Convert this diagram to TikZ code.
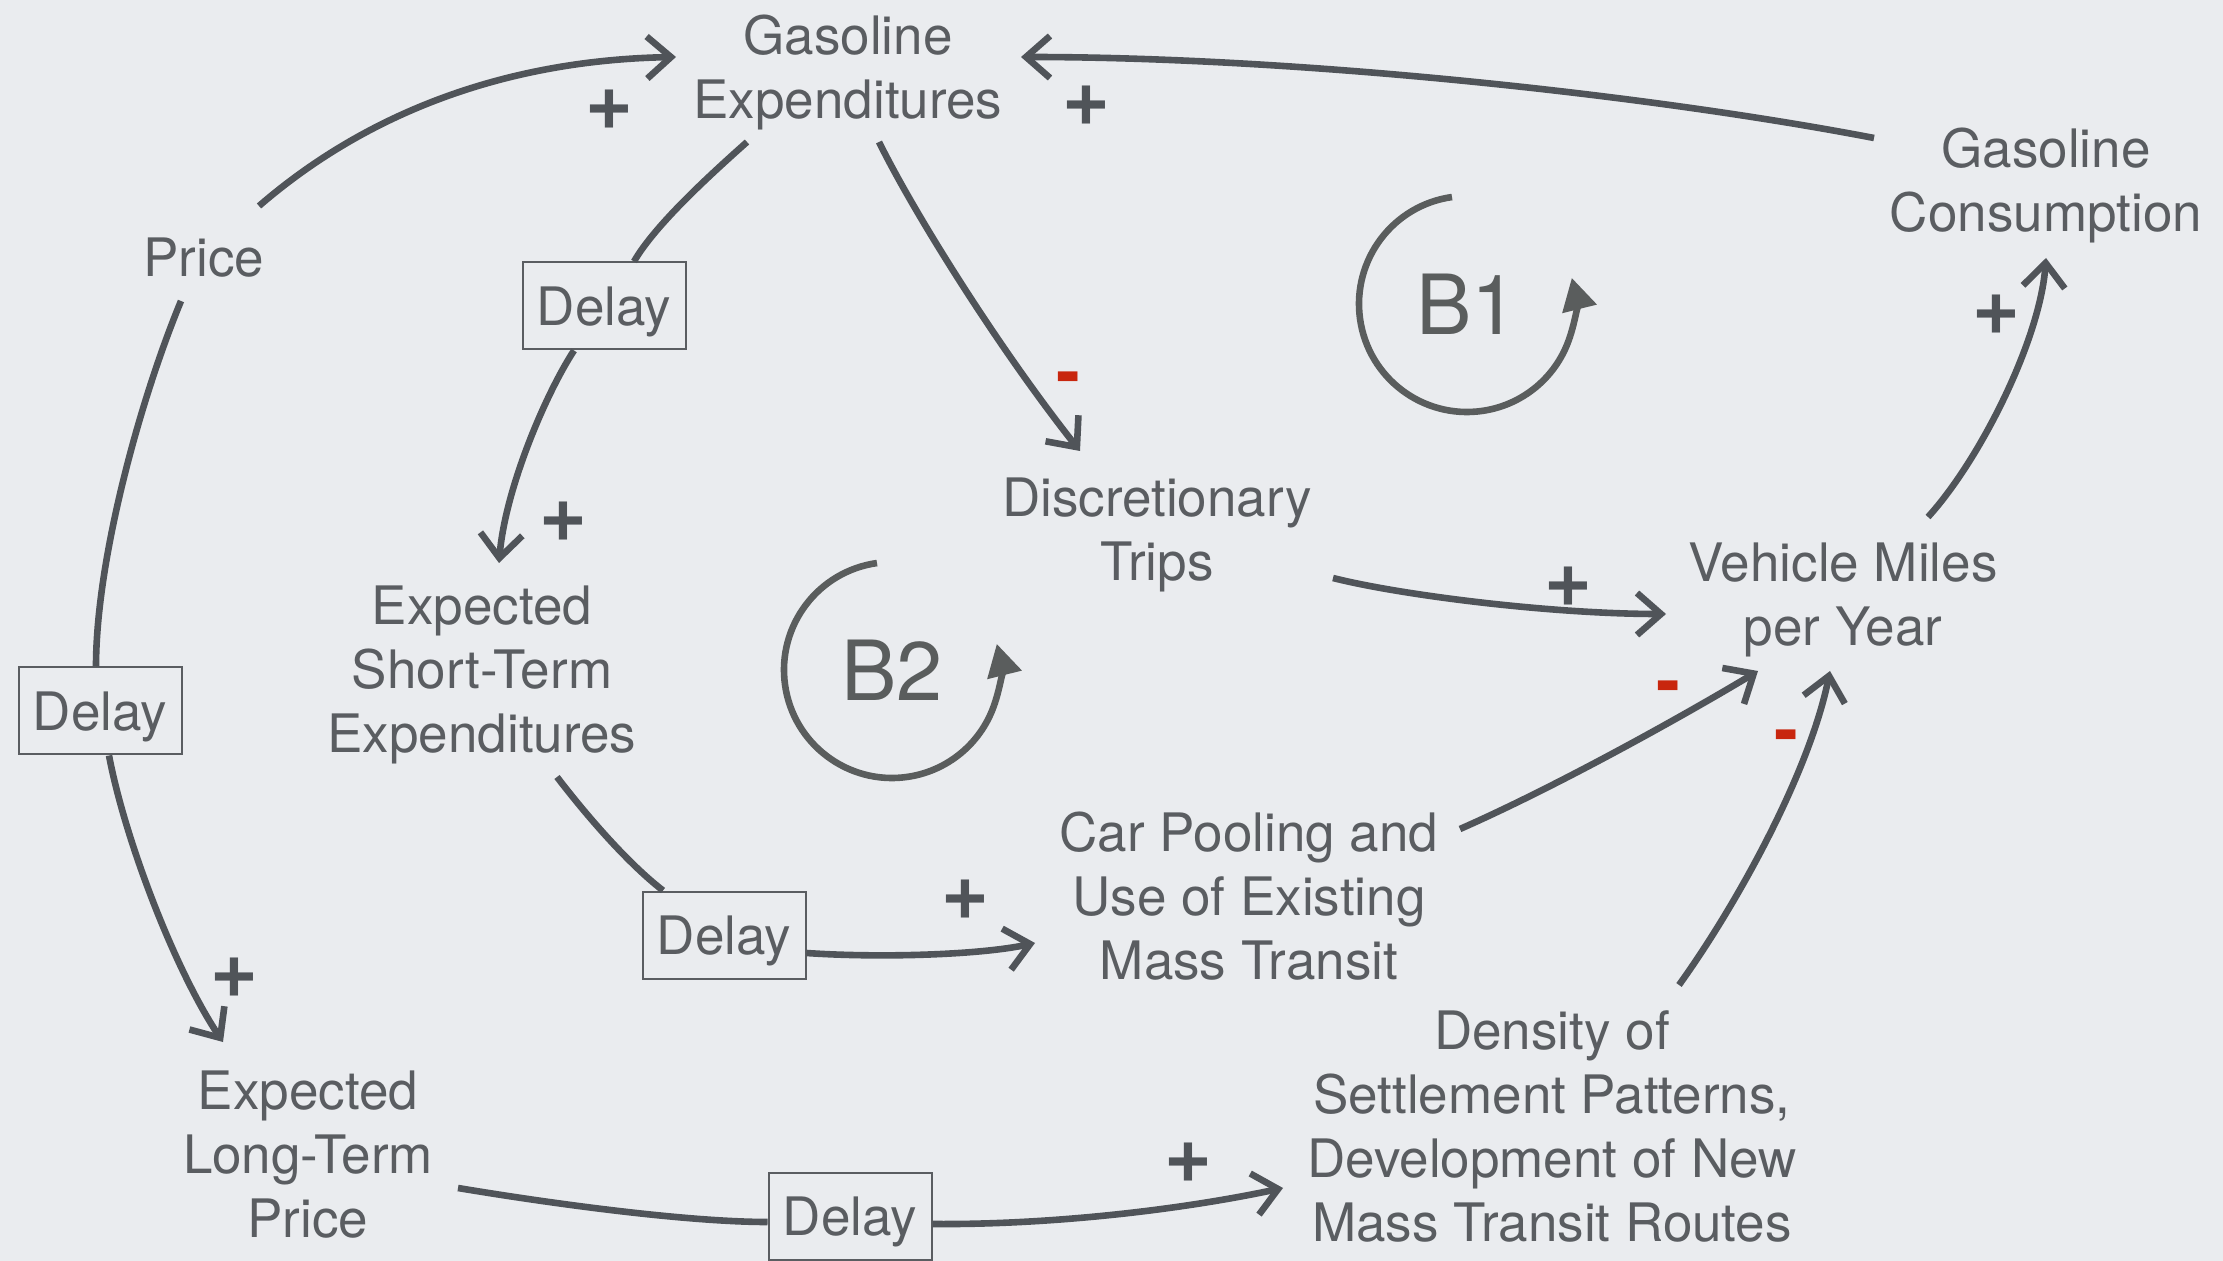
\documentclass[tikz,border=0pt]{standalone}
\usepackage{fontspec}
\setmainfont{TeX Gyre Heros}
\usetikzlibrary{arrows.meta,calc}
\definecolor{bg}{HTML}{EAECEF}
\definecolor{ink}{HTML}{5A5D61}
\definecolor{wire}{HTML}{505459}
\definecolor{loopc}{HTML}{5A5D5D}
\definecolor{minusc}{HTML}{C8260E}
\begin{document}
\begin{tikzpicture}[x=0.5pt,y=-0.5pt,
  lbl/.style={text=ink,font=\fontsize{26.5}{32}\selectfont,align=center,inner sep=0pt},
  delaybox/.style={draw=ink,line width=1pt,minimum width=81.5pt,minimum height=43.5pt,inner sep=0pt,text depth=0pt,text=ink,font=\fontsize{26.5}{32}\selectfont},
  conn/.style={draw=wire,line width=3.3pt,-{Straight Barb[length=12pt,width=21pt]}},
  seg/.style={draw=wire,line width=3.3pt},
  plussign/.style={text=wire,font=\bfseries\fontsize{41}{41}\selectfont,inner sep=0pt},
  minussign/.style={text=minusc,font=\bfseries\fontsize{36}{36}\selectfont,inner sep=0pt},
  loopname/.style={text=loopc,font=\fontsize{41.5}{41.5}\selectfont,inner sep=0pt},
  loopline/.style={draw=loopc,line width=3.3pt,-{Triangle[length=16pt,width=17pt]}}]
\fill[bg] (0,0) rectangle (2223,1261);
\useasboundingbox (0,0) rectangle (2223,1261);

% nodes
\node[lbl] (gexp) at (848,72) {Gasoline\\Expenditures};
\node[lbl] (gcons) at (2046,185) {Gasoline\\Consumption};
\node[lbl] (price) at (204,258) {Price};
\node[delaybox] (d1) at (604,306) {Delay};
\node[lbl] (disc) at (1157,535) {Discretionary\\Trips};
\node[lbl] (est) at (482,675) {Expected\\Short-Term\\Expenditures};
\node[delaybox] (dleft) at (100,711) {Delay};
\node[delaybox] (dmid) at (724,935) {Delay};
\node[lbl] (car) at (1249,896) {Car Pooling and\\Use of Existing\\Mass Transit};
\node[lbl] (vmt) at (1843,600) {Vehicle Miles\\per Year};
\node[lbl] (elt) at (308,1155) {Expected\\Long-Term\\Price};
\node[delaybox] (dbot) at (850,1216) {Delay};
\node[lbl] (dens) at (1552,1126) {Density of\\Settlement Patterns,\\Development of New\\Mass Transit Routes};

% loops
\node[loopname] (b1) at (1467,304) {B1};
\node[loopname] (b2) at (892,670) {B2};
\draw[loopline] ([shift={(-98:108)}]b1.center) arc[start angle=-98,end angle=-374,radius=108];
\draw[loopline] ([shift={(-98:108)}]b2.center) arc[start angle=-98,end angle=-374,radius=108];

% connectors
\draw[conn] ([shift={(55,-52)}]price.center) .. controls (370,110) and (510,60) .. ([shift={(-172,-15)}]gexp.center);
\draw[conn] ([shift={(-172,-47)}]gcons.center) .. controls (1650,95) and (1300,57) .. ([shift={(173,-15)}]gexp.center);
\draw[seg] ([shift={(-101,70)}]gexp.center) .. controls (710,175) and (655,225) .. ([shift={(30,0)}]d1.north);
\draw[conn] ([shift={(-30,0)}]d1.south) .. controls (545,395) and (505,490) .. ([shift={(17,-112)}]est.center);
\draw[conn] ([shift={(31,70)}]gexp.center) .. controls (915,215) and (1000,350) .. ([shift={(-77,-84)}]disc.center);
\draw[conn] ([shift={(176,43)}]disc.center) .. controls (1400,595) and (1550,614) .. ([shift={(-177,14)}]vmt.center);
\draw[conn] ([shift={(85,-83)}]vmt.center) .. controls (1980,460) and (2040,340) .. ([shift={(0,73)}]gcons.center);
\draw[conn] ([shift={(211,-67)}]car.center) .. controls (1560,785) and (1690,712) .. ([shift={(-85,71)}]vmt.center);
\draw[conn] ([shift={(127,-141)}]dens.center) .. controls (1740,900) and (1810,770) .. ([shift={(-13,71)}]vmt.center);
\draw[seg] ([shift={(75,102)}]est.center) .. controls (590,820) and (630,865) .. ([shift={(-61,0)}]dmid.north);
\draw[conn] ([shift={(0,18)}]dmid.east) .. controls (880,958) and (980,955) .. ([shift={(-214,47)}]car.center);
\draw[seg] ([shift={(-23,43)}]price.center) .. controls (140,400) and (96,560) .. ([shift={(-4,0)}]dleft.north);
\draw[conn] ([shift={(9,0)}]dleft.south) .. controls (125,840) and (175,970) .. ([shift={(-85,-113)}]elt.center);
\draw[seg] ([shift={(150,33)}]elt.center) .. controls (560,1205) and (690,1222) .. ([shift={(0,6)}]dbot.west);
\draw[conn] ([shift={(0,8)}]dbot.east) .. controls (1050,1225) and (1180,1210) .. ([shift={(-269,62)}]dens.center);

% polarity labels
\node[plussign] (p1) at (609,110) {+};
\node[plussign] (p2) at (1086,106) {+};
\node[plussign] (p3) at (563,522) {+};
\node[minussign] (m1) at (1068,384) {-};
\node[plussign] (p4) at (1568,587) {+};
\node[plussign] (p5) at (1996,315) {+};
\node[minussign] (m2) at (1668,693) {-};
\node[minussign] (m3) at (1786,742) {-};
\node[plussign] (p6) at (965,900) {+};
\node[plussign] (p7) at (234,978) {+};
\node[plussign] (p8) at (1188,1163) {+};
\end{tikzpicture}
\end{document}
